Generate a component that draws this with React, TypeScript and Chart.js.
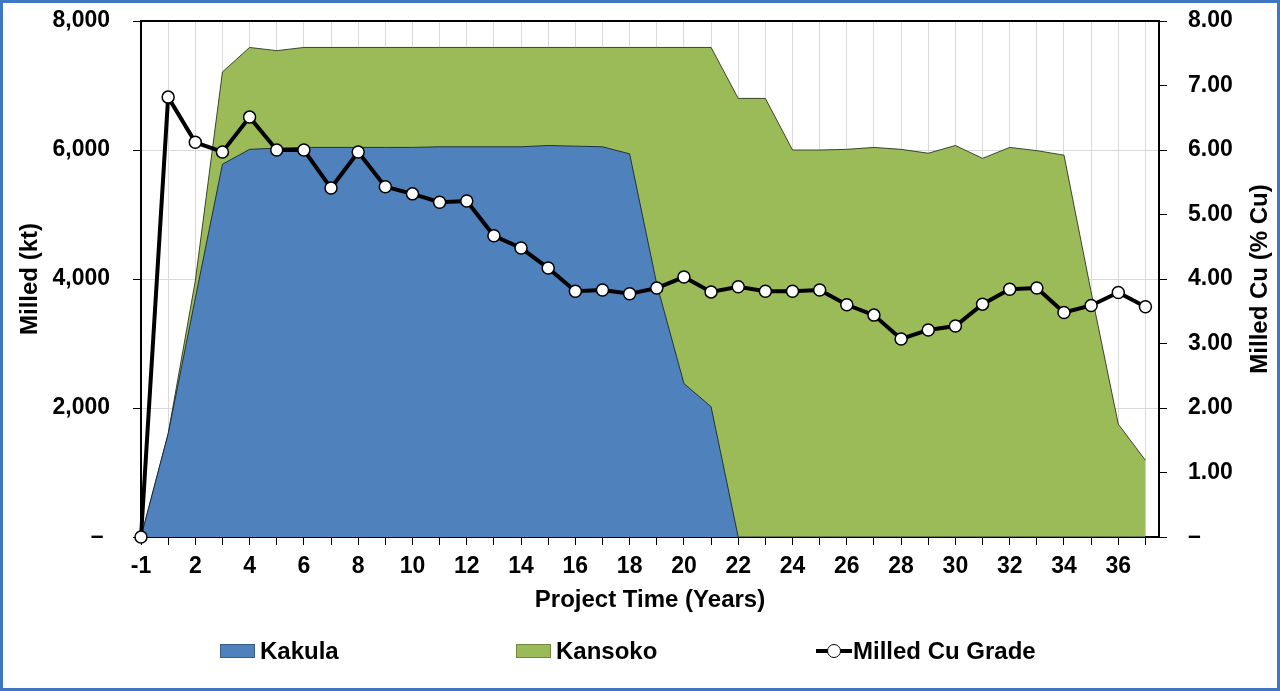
import React, { useEffect, useRef } from 'react';
import { Chart, registerables } from 'chart.js';

Chart.register(...registerables);

// ---- data ----
const years = ['-1', '1', '2', '3', '4', '5', '6', '7', '8', '9', '10', '11', '12', '13', '14', '15', '16', '17', '18', '19', '20', '21', '22', '23', '24', '25', '26', '27', '28', '29', '30', '31', '32', '33', '34', '35', '36', '37'];

const kakula = [0, 1600, 3700, 5780, 6010, 6030, 6040, 6040, 6040, 6040, 6040, 6050, 6050, 6050, 6050, 6070, 6060, 6050, 5940, 3920, 2380, 2020, 0, 0, 0, 0, 0, 0, 0, 0, 0, 0, 0, 0, 0, 0, 0, 0];

const kansoko = [0, 0, 270, 1430, 1580, 1510, 1550, 1550, 1550, 1550, 1550, 1540, 1540, 1540, 1540, 1520, 1530, 1540, 1650, 3670, 5210, 5570, 6800, 6800, 6000, 6000, 6010, 6040, 6010, 5950, 6070, 5870, 6040, 5990, 5920, 3800, 1750, 1190];

const cuGrade = [0, 6.82, 6.12, 5.97, 6.51, 6.0, 6.0, 5.41, 5.97, 5.43, 5.32, 5.19, 5.21, 4.67, 4.48, 4.17, 3.81, 3.83, 3.77, 3.86, 4.03, 3.8, 3.88, 3.81, 3.81, 3.83, 3.6, 3.44, 3.07, 3.21, 3.27, 3.61, 3.84, 3.86, 3.48, 3.59, 3.79, 3.57];

const seriesNames = ['Kakula', 'Kansoko', 'Milled Cu Grade'];
const xTitle = 'Project Time (Years)';
const yLeftTitle = 'Milled (kt)';
const yRightTitle = 'Milled Cu (% Cu)';

const FONT = "'Liberation Sans', Arial, Helvetica, sans-serif";
const BLUE = '#4F81BD';
const GREEN = '#9BBB59';

const CW = 1274;
const CH = 685;

const framePlugin = {
  id: 'framePlugin',
  afterDraw(chart: any) {
    const { ctx, chartArea } = chart;
    ctx.save();
    ctx.strokeStyle = '#000';
    ctx.lineWidth = 2;
    ctx.beginPath();
    ctx.moveTo(chartArea.left, chartArea.top);
    ctx.lineTo(chartArea.right, chartArea.top);
    ctx.stroke();
    ctx.translate(chart.width - 17, (chartArea.top + chartArea.bottom) / 2);
    ctx.rotate(-Math.PI / 2);
    ctx.font = `bold 24px ${FONT}`;
    ctx.fillStyle = '#000';
    ctx.textAlign = 'center';
    ctx.textBaseline = 'middle';
    ctx.fillText(yRightTitle, 0, 0);
    ctx.restore();
  },
};

export default function App() {
  const ref = useRef<HTMLCanvasElement | null>(null);

  useEffect(() => {
    if (!ref.current) return;
    const pts = (arr: number[]) => arr.map((v, i) => ({ x: i, y: v }));
    const fixV = (w: number) => (s: any) => {
      s.width = w;
      s.paddingTop = 14;
      s.paddingBottom = 14;
    };
    const chart = new Chart(ref.current, {
      type: 'line',
      data: {
        datasets: [
          {
            label: seriesNames[2],
            data: pts(cuGrade),
            yAxisID: 'y1',
            borderColor: '#000',
            borderWidth: 4,
            pointRadius: 6,
            pointBackgroundColor: '#fff',
            pointBorderColor: '#000',
            pointBorderWidth: 1.5,
            fill: false,
            tension: 0,
            order: 0,
            clip: false,
          } as any,
          {
            label: seriesNames[0],
            data: pts(kakula),
            yAxisID: 'y',
            stack: 'mill',
            backgroundColor: BLUE,
            borderColor: 'rgba(20,30,50,0.85)',
            borderWidth: 1,
            pointRadius: 0,
            fill: 'origin',
            tension: 0,
            order: 1,
          },
          {
            label: seriesNames[1],
            data: pts(kansoko),
            yAxisID: 'y',
            stack: 'mill',
            backgroundColor: GREEN,
            borderColor: 'rgba(30,45,20,0.85)',
            borderWidth: 1,
            pointRadius: 0,
            fill: 'origin',
            tension: 0,
            order: 2,
          },
        ],
      },
      options: {
        animation: false,
        responsive: false,
        devicePixelRatio: window.devicePixelRatio || 1,
        layout: { padding: { top: 18, bottom: 73, left: 0, right: 0 } },
        plugins: { legend: { display: false }, tooltip: { enabled: false } },
        scales: {
          x: {
            type: 'linear',
            min: 0,
            max: 37.5,
            afterFit: (s: any) => { s.height = 78; },
            ticks: {
              stepSize: 1,
              autoSkip: false,
              includeBounds: false,
              maxRotation: 0,
              padding: 8,
              color: '#000',
              font: { family: FONT, size: 23, weight: 'bold' },
              callback: (v: any) => {
                const i = Math.round(Number(v));
                return i % 2 === 0 ? years[i] : '';
              },
            },
            grid: { color: '#d9d9d9', tickColor: '#000', tickLength: 8, lineWidth: 1 },
            border: { display: true, color: '#000', width: 2 },
            title: {
              display: true,
              text: xTitle,
              color: '#000',
              font: { family: FONT, size: 24, weight: 'bold' },
              padding: { top: 0, bottom: 0 },
            },
          },
          y: {
            position: 'left',
            stacked: true,
            min: 0,
            max: 8000,
            afterFit: fixV(138),
            ticks: {
              stepSize: 2000,
              padding: 23,
              color: '#000',
              font: { family: FONT, size: 23, weight: 'bold' },
              callback: (v: any) => (Number(v) === 0 ? '– ' : Number(v).toLocaleString('en-US')),
            },
            grid: { color: '#d9d9d9', tickColor: '#000', tickLength: 8 },
            border: { display: true, color: '#000', width: 2 },
            title: {
              display: true,
              text: yLeftTitle,
              color: '#000',
              font: { family: FONT, size: 24, weight: 'bold' },
              padding: { top: 13, bottom: 0 },
            },
          },
          y1: {
            position: 'right',
            min: 0,
            max: 8,
            afterFit: fixV(118),
            ticks: {
              stepSize: 1,
              padding: 21,
              color: '#000',
              font: { family: FONT, size: 23, weight: 'bold' },
              callback: (v: any) => (Number(v) === 0 ? '–' : Number(v).toFixed(2)),
            },
            grid: { drawOnChartArea: false, color: '#000', tickColor: '#000', tickLength: 8 },
            border: { display: true, color: '#000', width: 2 },
          },
        },
      } as any,
      plugins: [framePlugin],
    });
    return () => chart.destroy();
  }, []);

  const textStyle: React.CSSProperties = {
    fontFamily: FONT,
    fontWeight: 'bold',
    fontSize: 24,
    color: '#000',
    lineHeight: '30px',
    whiteSpace: 'nowrap',
  };

  const item = (left: number, symbol: React.ReactNode, label: string) => (
    <div
      key={label}
      style={{ position: 'absolute', left, top: 633, height: 30, display: 'flex', alignItems: 'center' }}
    >
      {symbol}
      <span style={textStyle}>{label}</span>
    </div>
  );

  const box = (fill: string, stroke: string) => (
    <div style={{ width: 35, height: 14, background: fill, border: `1px solid ${stroke}`, boxSizing: 'border-box', marginRight: 5 }} />
  );

  const lineSym = (
    <div style={{ position: 'relative', width: 36, height: 14, marginRight: 1 }}>
      <div style={{ position: 'absolute', left: 0, top: 5, width: 36, height: 4, background: '#000' }} />
      <div
        style={{
          position: 'absolute',
          left: 11,
          top: 0,
          width: 14,
          height: 14,
          borderRadius: '50%',
          background: '#fff',
          border: '1.5px solid #000',
          boxSizing: 'border-box',
        }}
      />
    </div>
  );

  return (
    <div
      style={{
        position: 'fixed',
        left: 0,
        top: 0,
        width: 1280,
        height: 691,
        boxSizing: 'border-box',
        border: '3px solid #3E76C2',
        background: '#fff',
        overflow: 'hidden',
      }}
    >
      <canvas
        ref={ref}
        width={CW}
        height={CH}
        style={{ position: 'absolute', left: 0, top: 0, width: CW, height: CH }}
      />
      {item(217, box(BLUE, '#385D8A'), seriesNames[0])}
      {item(513, box(GREEN, '#71893F'), seriesNames[1])}
      {item(813, lineSym, seriesNames[2])}
    </div>
  );
}
